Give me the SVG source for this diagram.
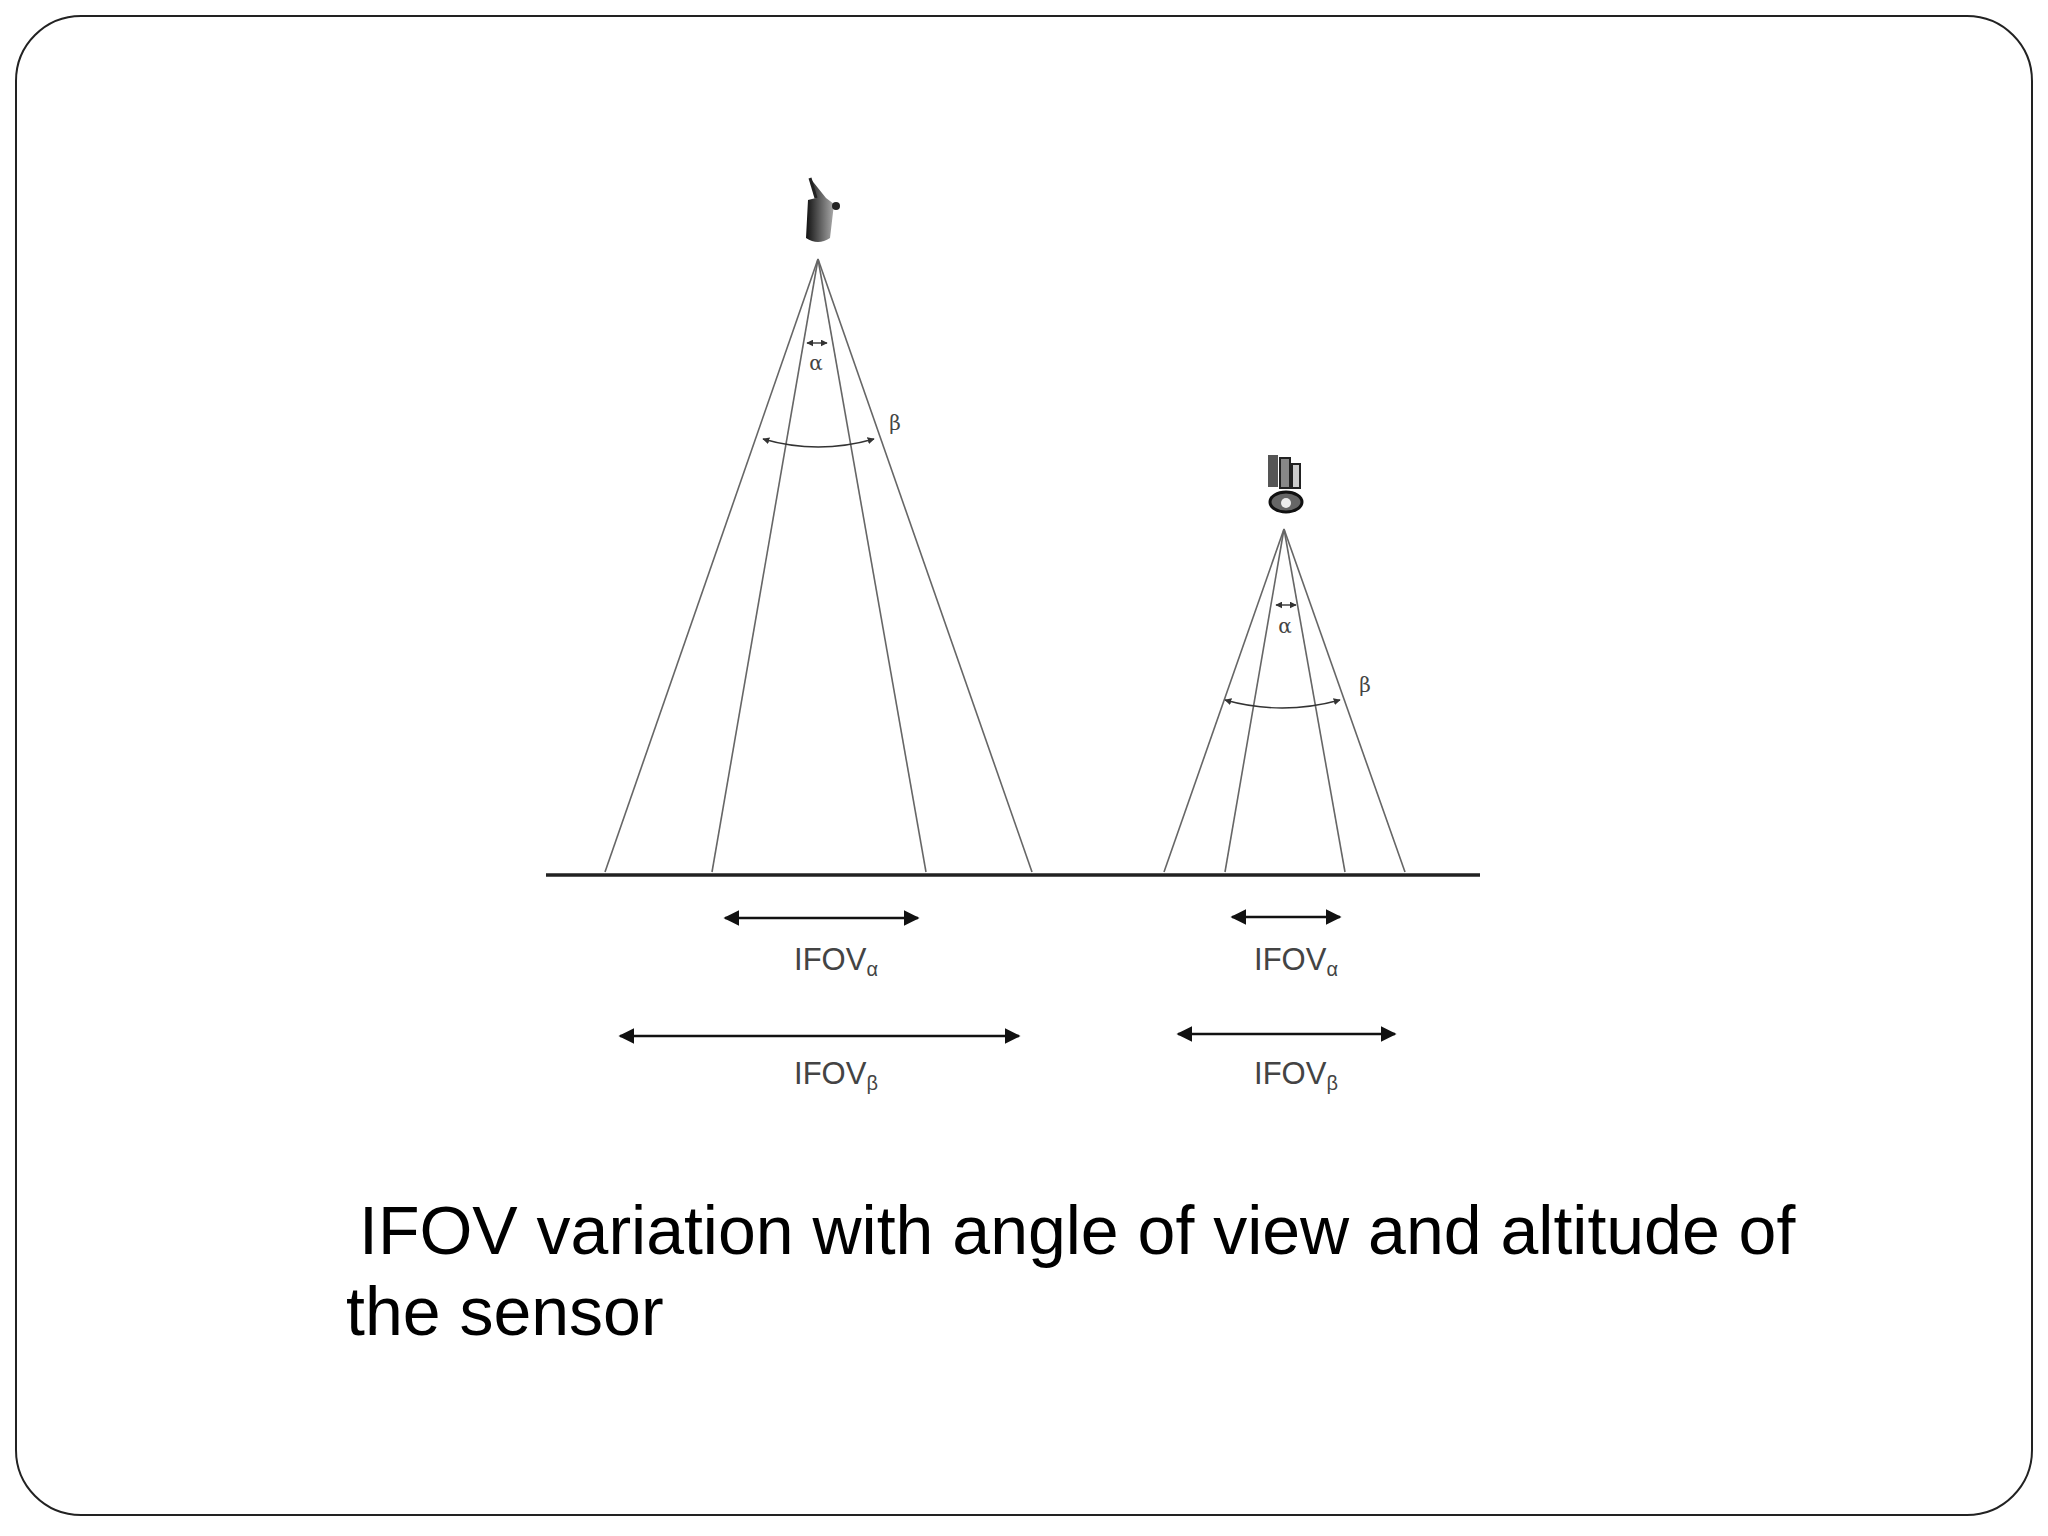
<svg xmlns="http://www.w3.org/2000/svg" width="2048" height="1536" viewBox="0 0 2048 1536">
<style>
.ray{stroke:#666;stroke-width:1.6;fill:none}
.arr{stroke:#111;stroke-width:2.6;fill:none;marker-start:url(#ah);marker-end:url(#ah)}
.sm{stroke:#333;stroke-width:1.4;fill:none;marker-start:url(#ahs);marker-end:url(#ahs)}
.lbl{font-family:"Liberation Sans",Arial,sans-serif;font-size:31px;fill:#444}
.sub{font-size:20px}
.gr{font-family:"DejaVu Serif",serif;font-size:20px;fill:#444}
.cap{font-family:"Liberation Sans",Arial,sans-serif;font-size:68px;fill:#000}
</style>
<defs>
<marker id="ah" viewBox="0 0 10 10" refX="9" refY="5" markerWidth="6" markerHeight="6" orient="auto-start-reverse"><path d="M0,0 L10,5 L0,10 z" fill="#111"/></marker>
<marker id="ahs" viewBox="0 0 10 10" refX="9" refY="5" markerWidth="5" markerHeight="5" orient="auto-start-reverse"><path d="M0,0 L10,5 L0,10 z" fill="#333"/></marker>
<linearGradient id="sat" x1="0" x2="1"><stop offset="0" stop-color="#111"/><stop offset="1" stop-color="#aaa"/></linearGradient>
</defs>
<rect x="16" y="16" width="2016" height="1499" rx="65" fill="#fff" stroke="#222" stroke-width="2"/>
<g id="ground"><line x1="546" y1="875" x2="1480" y2="875" stroke="#222" stroke-width="3.5"/></g>
<g id="sensor-high">
<path d="M810,178 L816,198 L808,200 L806,238 Q818,246 830,238 L834,204 L826,198 Z" fill="url(#sat)"/>
<circle cx="836" cy="206" r="4" fill="#222"/>
<line x1="816" y1="198" x2="810" y2="178" stroke="#222" stroke-width="3"/>
</g>
<g id="sensor-low">
<rect x="1268" y="455" width="10" height="32" fill="#555"/>
<rect x="1280" y="458" width="10" height="30" fill="#888" stroke="#222" stroke-width="2"/>
<rect x="1292" y="464" width="8" height="24" fill="#ccc" stroke="#222" stroke-width="2"/>
<ellipse cx="1286" cy="502" rx="16" ry="10" fill="#666" stroke="#111" stroke-width="3"/>
<circle cx="1286" cy="503" r="5" fill="#eee"/>
</g>
<g id="connectors">
<line class="ray" x1="818" y1="259" x2="605" y2="872"/>
<line class="ray" x1="818" y1="259" x2="712" y2="872"/>
<line class="ray" x1="818" y1="259" x2="926" y2="872"/>
<line class="ray" x1="818" y1="259" x2="1032" y2="872"/>
<line class="ray" x1="1284" y1="529" x2="1164" y2="872"/>
<line class="ray" x1="1284" y1="529" x2="1225" y2="872"/>
<line class="ray" x1="1284" y1="529" x2="1345" y2="872"/>
<line class="ray" x1="1284" y1="529" x2="1405" y2="872"/>
<line class="sm" x1="807" y1="343" x2="827" y2="343"/>
<path class="sm" d="M763,439 Q818,455 874,439"/>
<line class="sm" x1="1276" y1="605" x2="1296" y2="605"/>
<path class="sm" d="M1225,700 Q1282,716 1340,700"/>
<line class="arr" x1="725" y1="918" x2="918" y2="918"/>
<line class="arr" x1="620" y1="1036" x2="1019" y2="1036"/>
<line class="arr" x1="1232" y1="917" x2="1340" y2="917"/>
<line class="arr" x1="1178" y1="1034" x2="1395" y2="1034"/>
</g>
<g id="labels">
<text class="gr" x="816" y="370" text-anchor="middle">α</text>
<text class="gr" x="895" y="430" text-anchor="middle">β</text>
<text class="gr" x="1285" y="633" text-anchor="middle">α</text>
<text class="gr" x="1365" y="692" text-anchor="middle">β</text>
<text class="lbl" x="836" y="970" text-anchor="middle">IFOV<tspan class="sub" dy="6">α</tspan></text>
<text class="lbl" x="836" y="1084" text-anchor="middle">IFOV<tspan class="sub" dy="6">β</tspan></text>
<text class="lbl" x="1296" y="970" text-anchor="middle">IFOV<tspan class="sub" dy="6">α</tspan></text>
<text class="lbl" x="1296" y="1084" text-anchor="middle">IFOV<tspan class="sub" dy="6">β</tspan></text>
</g>
<g id="caption">
<text class="cap" x="359" y="1254">IFOV variation with angle of view and altitude of</text>
<text class="cap" x="346" y="1335">the sensor</text>
</g>
</svg>
